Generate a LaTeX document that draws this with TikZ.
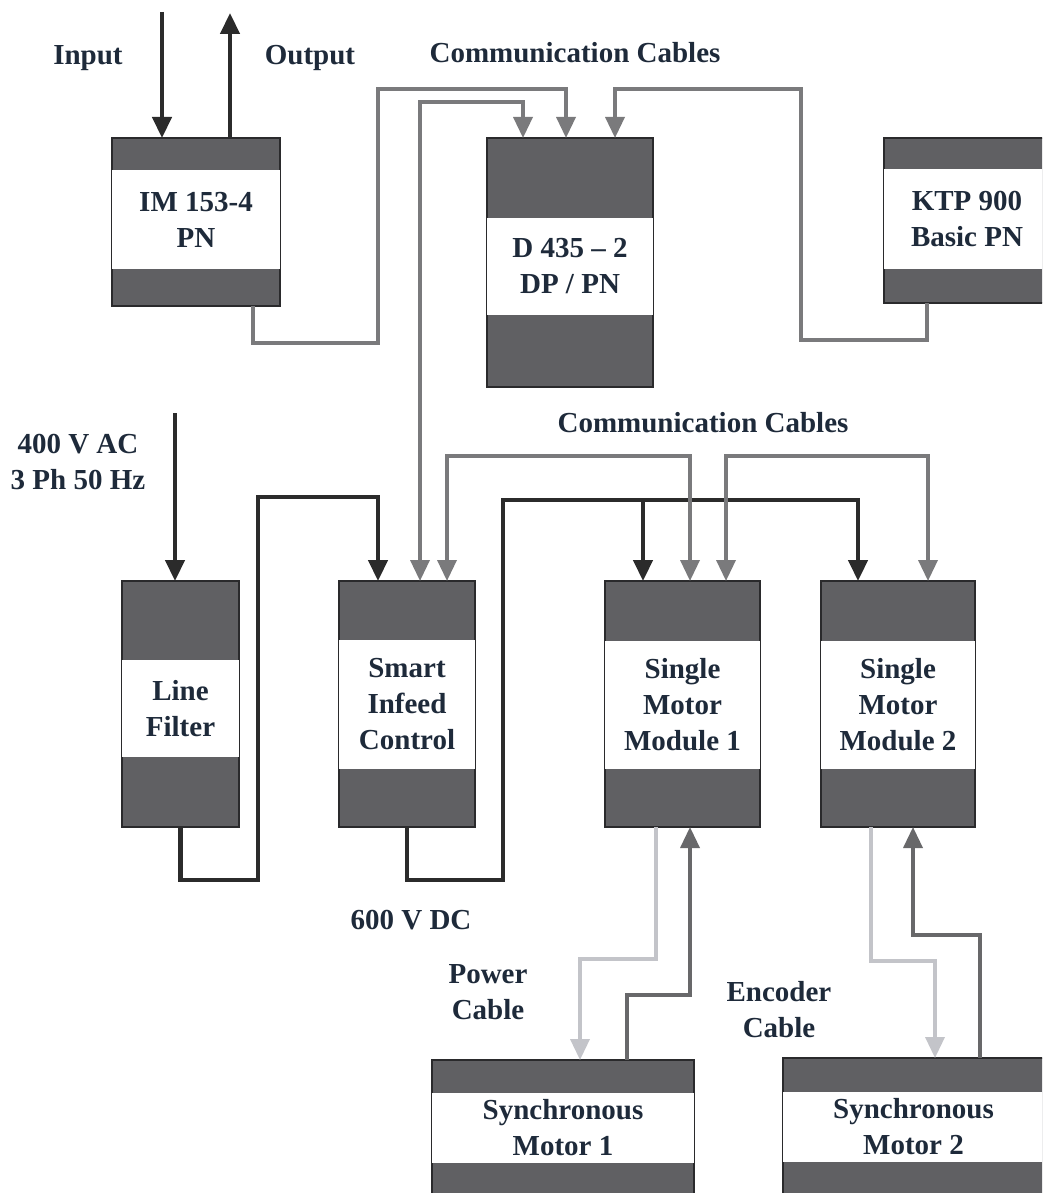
\documentclass[tikz,border=0pt]{standalone}
\usepackage{fontspec}
\setmainfont{Liberation Serif}
\usetikzlibrary{arrows.meta,calc}
\definecolor{boxfill}{HTML}{606063}
\definecolor{boxedge}{HTML}{2A2A2C}
\definecolor{txt}{HTML}{1E2A3A}
\definecolor{darkc}{HTML}{2B2B2B}
\definecolor{commc}{HTML}{7A7A7C}
\definecolor{encc}{HTML}{68686A}
\definecolor{powc}{HTML}{C3C4C9}
\begin{document}
\begin{tikzpicture}[x=1pt,y=-1pt,
  modbox/.style={draw=boxedge,line width=2.5pt,fill=boxfill,inner sep=0pt,outer sep=0pt,rectangle},
  band/.style={fill=white,inner sep=0pt,outer sep=0pt,text=txt,font=\bfseries\fontsize{29}{36}\selectfont,align=center},
  lbl/.style={text=txt,font=\bfseries\fontsize{29}{36}\selectfont,align=center,inner sep=0pt},
  arone/.style={-{Triangle[length=21pt,width=19pt]}},
  artwo/.style={{Triangle[length=21pt,width=19pt]}-{Triangle[length=21pt,width=19pt]}},
  dkline/.style={draw=darkc,line width=4.5pt},
  cmline/.style={draw=commc,line width=3.5pt},
  enline/.style={draw=encc,line width=3.5pt},
  pwline/.style={draw=powc,line width=3.5pt}
]
\useasboundingbox (0,0) rectangle (1042,1193);
\clip (0,0) rectangle (1042,1193);
\fill[white] (0,0) rectangle (1042,1193);

% ---- modules ----
\node[modbox,minimum width=168pt,minimum height=168pt] (im) at (196,222) {};
\node[band,minimum width=168pt,minimum height=99pt] (imL) at (196,219.5) {IM 153-4\\PN};

\node[modbox,minimum width=166pt,minimum height=249pt] (d435) at (570,262.5) {};
\node[band,minimum width=166pt,minimum height=97pt] (d435L) at (570,266.5) {D 435 -- 2\\DP / PN};

\node[modbox,minimum width=166pt,minimum height=165pt] (ktp) at (967,220.5) {};
\node[band,minimum width=166pt,minimum height=100pt] (ktpL) at (967,219) {KTP 900\\Basic PN};

\node[modbox,minimum width=117pt,minimum height=246pt] (lf) at (180.5,704) {};
\node[band,minimum width=117pt,minimum height=97pt] (lfL) at (180.5,708.5) {Line\\Filter};

\node[modbox,minimum width=136pt,minimum height=246pt] (si) at (407,704) {};
\node[band,minimum width=136pt,minimum height=129pt] (siL) at (407,704.5) {Smart\\Infeed\\Control};

\node[modbox,minimum width=155pt,minimum height=246pt] (smm1) at (682.5,704) {};
\node[band,minimum width=155pt,minimum height=128pt] (smm1L) at (682.5,705) {Single\\Motor\\Module 1};

\node[modbox,minimum width=154pt,minimum height=246pt] (smm2) at (898,704) {};
\node[band,minimum width=154pt,minimum height=128pt] (smm2L) at (898,705) {Single\\Motor\\Module 2};

\node[modbox,minimum width=262pt,minimum height=150pt] (m1) at (563,1135) {};
\node[band,minimum width=262pt,minimum height=70pt] (m1L) at (563,1128) {Synchronous\\Motor 1};

\node[modbox,minimum width=261pt,minimum height=150pt] (m2) at (913.5,1133) {};
\node[band,minimum width=261pt,minimum height=70pt] (m2L) at (913.5,1127) {Synchronous\\Motor 2};

% ---- labels ----
\node[lbl] (tIn) at (88,58) {Input};
\node[lbl] (tOut) at (310,58) {Output};
\node[lbl] (tCom1) at (575,53) {Communication Cables};
\node[lbl] (tCom2) at (703,423) {Communication Cables};
\node[lbl] (tAC) at (78,462) {400 V AC\\3 Ph 50 Hz};
\node[lbl] (tDC) at (411,920) {600 V DC};
\node[lbl] (tPow) at (488,992) {Power\\Cable};
\node[lbl] (tEnc) at (779,1010) {Encoder\\Cable};

% ---- free ends ----
\coordinate (inTop) at (162,12);
\coordinate (outTop) at (230,13);
\coordinate (acTop) at (175,413);
\coordinate (busA) at (643,500);

% ---- top connectors ----
\draw[dkline,arone] (inTop) -- (inTop |- im.north);
\draw[dkline,arone] (outTop |- im.north) -- (outTop);
\draw[cmline,arone] ([xshift=57pt]im.south) -- ++(0,37) -| (378,89) -| ([xshift=-4pt]d435.north);
\draw[cmline,artwo] ([xshift=13pt]si.north) |- (470,102) -| ([xshift=-47pt]d435.north);
\draw[cmline,arone] ([xshift=-40pt]ktp.south) -- ++(0,37) -| (801,89) -| ([xshift=45pt]d435.north);

% ---- power bus ----
\draw[dkline,arone] (acTop) -- (acTop |- lf.north);
\draw[dkline,arone] (lf.south) -- ++(0,53) -| (258,497) -| ([xshift=-29pt]si.north);
\draw[dkline,arone] (si.south) -- ++(0,53) -| (503,500) -| ([xshift=-39.5pt]smm1.north);
\draw[dkline,arone] (busA) -| ([xshift=-40pt]smm2.north);

% ---- drive communication ----
\draw[cmline,artwo] ([xshift=40pt]si.north) |- (600,456) -| ([xshift=7.5pt]smm1.north);
\draw[cmline,artwo] ([xshift=43.5pt]smm1.north) |- (800,456) -| ([xshift=30pt]smm2.north);

% ---- motor cables ----
\draw[pwline,arone] ([xshift=-26.5pt]smm1.south) -- ++(0,132) -| ([xshift=17pt]m1.north);
\draw[enline,arone] ([xshift=64pt]m1.north) -- ++(0,-65) -| ([xshift=7.5pt]smm1.south);
\draw[pwline,arone] ([xshift=-27pt]smm2.south) -- ++(0,134) -| ([xshift=21.5pt]m2.north);
\draw[enline,arone] ([xshift=66.5pt]m2.north) -- ++(0,-123) -| ([xshift=15pt]smm2.south);
\end{tikzpicture}
\end{document}
